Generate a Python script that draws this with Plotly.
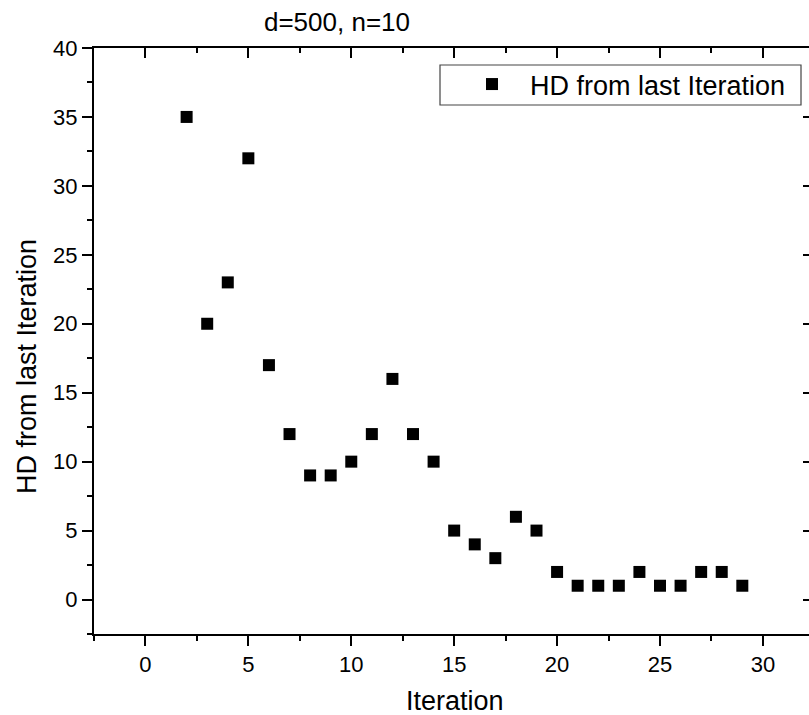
import plotly.graph_objects as go

# Hamming distance to the previous iteration, per iteration
iteration = list(range(2, 30))
hd_from_last = [35, 20, 23, 32, 17, 12, 9, 9, 10, 12, 16, 12, 10, 5, 4,
                3, 6, 5, 2, 1, 1, 1, 2, 1, 1, 2, 2, 1]

x_tick_vals = [0, 5, 10, 15, 20, 25, 30]
y_tick_vals = [0, 5, 10, 15, 20, 25, 30, 35, 40]

series_name = "HD from last Iteration"
chart_title = "d=500, n=10"
x_title = "Iteration"
y_title = "HD from last Iteration"

W, H = 809, 715
L, R, T, B = 94, 0, 48, 81
PW, PH = W - L - R, H - T - B

X_RANGE = [-2.5, 32.24]
Y_RANGE = [-2.5, 40]

FONT = "Liberation Sans, Arial, sans-serif"


def px_x(px):
    return (px - L) / PW


def px_y(py):
    return (H - B - py) / PH


fig = go.Figure()

fig.add_trace(go.Scatter(
    x=iteration, y=hd_from_last, mode="markers", name=series_name,
    marker=dict(symbol="square", size=12, color="black",
                line=dict(width=0)),
    hoverinfo="x+y",
))

# invisible copy that anchors the mirrored top/right axes
fig.add_trace(go.Scatter(
    x=iteration, y=hd_from_last, mode="markers", xaxis="x2", yaxis="y2",
    marker=dict(opacity=0), showlegend=False, hoverinfo="skip",
))

axis_common = dict(showgrid=False, zeroline=False, linecolor="black",
                   linewidth=2, tickcolor="black", tickwidth=2)

fig.update_layout(
    width=W, height=H,
    margin=dict(l=L, r=R, t=T, b=B),
    paper_bgcolor="white", plot_bgcolor="white",
    font=dict(family=FONT, color="black", size=22),
    title=dict(text=chart_title, xref="container", yref="container",
               x=337 / W, xanchor="center", y=1 - 22 / H, yanchor="middle",
               font=dict(family=FONT, size=26, color="black")),
    xaxis=dict(range=X_RANGE, tickmode="array", tickvals=x_tick_vals,
               ticks="outside", ticklen=10, showline=True,
               minor=dict(ticks="outside", ticklen=5, dtick=2.5, tick0=0,
                          tickwidth=2, tickcolor="black"),
               tickfont=dict(size=22), **axis_common),
    yaxis=dict(range=Y_RANGE, tickmode="array", tickvals=y_tick_vals,
               ticks="outside", ticklen=10, showline=True,
               minor=dict(ticks="outside", ticklen=5, dtick=2.5, tick0=0,
                          tickwidth=2, tickcolor="black"),
               tickfont=dict(size=22), **axis_common),
    xaxis2=dict(range=X_RANGE, overlaying="x", side="top", anchor="y2",
                tickmode="array", tickvals=x_tick_vals, ticks="inside",
                ticklen=10, showline=True, showticklabels=False,
                minor=dict(ticks="inside", ticklen=5, dtick=2.5, tick0=0,
                           tickwidth=2, tickcolor="black"),
                **axis_common),
    yaxis2=dict(range=Y_RANGE, overlaying="y", side="right", anchor="x2",
                tickmode="array", tickvals=y_tick_vals, ticks="inside",
                ticklen=6, showline=False, showticklabels=False,
                showgrid=False, zeroline=False, tickcolor="black",
                tickwidth=2),
    legend=dict(x=px_x(454), y=px_y(60), xanchor="left", yanchor="top",
                bgcolor="rgba(0,0,0,0)", borderwidth=0, itemwidth=66,
                font=dict(family=FONT, size=27, color="black")),
    showlegend=True,
)

# legend frame
fig.add_shape(type="rect", xref="paper", yref="paper",
              x0=px_x(440), x1=px_x(801), y0=px_y(105), y1=px_y(65),
              line=dict(color="#444444", width=1.2), fillcolor="rgba(0,0,0,0)",
              layer="above")

fig.add_annotation(text=x_title, xref="paper", yref="paper",
                   x=px_x(455), y=px_y(701), xanchor="center",
                   yanchor="middle", showarrow=False,
                   font=dict(family=FONT, size=27, color="black"))
fig.add_annotation(text=y_title, xref="paper", yref="paper",
                   x=px_x(27), y=px_y(367), xanchor="center",
                   yanchor="middle", textangle=-90, showarrow=False,
                   font=dict(family=FONT, size=27, color="black"))

fig.write_html("out.html")
